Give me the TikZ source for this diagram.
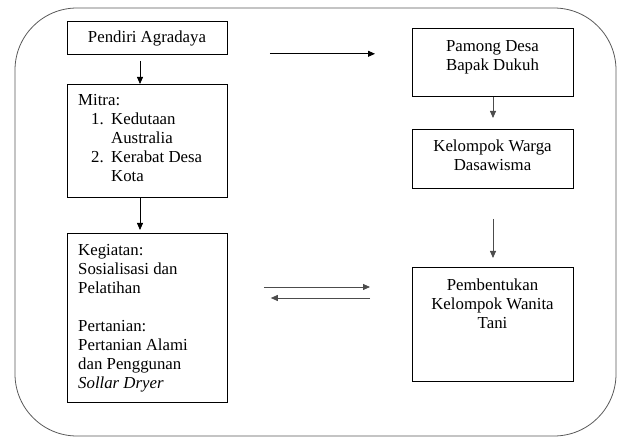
\documentclass[tikz,border=0pt]{standalone}
\usepackage{fontspec}
\setmainfont{LiberationSerif}[Extension=.ttf,UprightFont=*-Regular,ItalicFont=*-Italic,BoldFont=*-Bold]
\usetikzlibrary{arrows.meta}
\begin{document}
\begin{tikzpicture}[x=1pt,y=-1pt,
  box/.style={draw=black,line width=0.8pt,inner sep=0pt,anchor=north west},
  txt/.style={inner sep=0pt,font=\fontsize{16.8}{19}\selectfont},
  arr/.style={line width=0.8pt,-{Triangle[length=7pt,width=6pt]}},
  garr/.style={draw=black!70,line width=0.8pt,-{Triangle[length=7pt,width=6pt]}}]
\useasboundingbox (0,0) rectangle (624,438);
\draw[black!65,line width=0.8pt,rounded corners=62pt] (15,8) rectangle (616,436);
% boxes
\node[box,minimum width=160pt,minimum height=33pt] (pendiri) at (67,21) {};
\node[box,minimum width=160pt,minimum height=113pt] (mitra) at (67,84) {};
\node[box,minimum width=160pt,minimum height=169pt] (kegiatan) at (67,233) {};
\node[box,minimum width=161pt,minimum height=68pt] (pamong) at (412,28) {};
\node[box,minimum width=161pt,minimum height=59pt] (kelompok) at (412,129) {};
\node[box,minimum width=161pt,minimum height=114pt] (pembentukan) at (412,267) {};
% texts
\node[txt,anchor=base] (tpendiri) at (147,43) {Pendiri Agradaya};
\node[txt,anchor=north west,align=left] (tmitra) at (78,94.5) {Mitra:\\
\hspace*{13pt}\makebox[20pt][l]{1.}Kedutaan\\
\hspace*{33pt}Australia\\
\hspace*{13pt}\makebox[20pt][l]{2.}Kerabat Desa\\
\hspace*{33pt}Kota};
\node[txt,anchor=north west,align=left] (tkegiatan) at (78,244) {Kegiatan:\\
Sosialisasi dan\\
Pelatihan\\[19pt]
Pertanian:\\
Pertanian Alami\\
dan Penggunan\\
\textit{Sollar Dryer}};
\node[txt,anchor=north,align=center] (tpamong) at (492.5,40.5) {Pamong Desa\\Bapak Dukuh};
\node[txt,anchor=north,align=center] (tkelompok) at (492.5,139.5) {Kelompok Warga\\Dasawisma};
\node[txt,anchor=north,align=center] (tpembentukan) at (492.5,278.5) {Pembentukan\\Kelompok Wanita\\Tani};
% connectors
\draw[arr,shorten <=6pt] (pendiri.south -| 140,0) -- (mitra.north -| 140,0);
\draw[arr] (mitra.south -| 140,0) -- ([yshift=3pt]kegiatan.north -| 140,0);
\draw[arr] ([xshift=42pt,yshift=1pt]pendiri.south east) -- ([xshift=-37pt,yshift=1pt]pendiri.south east -| pamong.west);
\draw[garr] (pamong.south -| 493,0) -- ([yshift=11pt]kelompok.north -| 493,0);
\draw[garr,shorten <=30pt] (kelompok.south -| 493,0) -- ([yshift=9pt]pembentukan.north -| 493,0);
\draw[garr] ([xshift=36pt]kegiatan.east |- 0,287) -- ([xshift=-42pt]pembentukan.west |- 0,287);
\draw[garr] ([xshift=-42pt]pembentukan.west |- 0,298) -- ([xshift=43pt]kegiatan.east |- 0,298);
\end{tikzpicture}
\end{document}
